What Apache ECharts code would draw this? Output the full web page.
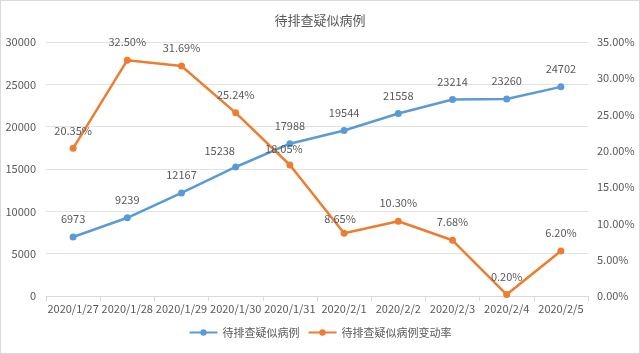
<!DOCTYPE html>
<html>
  <head>
    <meta charset="utf-8">
    <title>待排查疑似病例</title>
    <style>
      html, body { margin: 0; padding: 0; background: #fff; }
      #main { width: 638px; height: 352px; border: 1px solid #d9d9d9; }
    </style>
  </head>
  <body>
    <div id="main"></div>

  <script src="https://cdn.jsdelivr.net/npm/echarts@6/dist/echarts.min.js" charset="utf-8"></script>
  <script type="text/javascript">
  var dates = ['2020/1/27', '2020/1/28', '2020/1/29', '2020/1/30', '2020/1/31',
               '2020/2/1', '2020/2/2', '2020/2/3', '2020/2/4', '2020/2/5'];
  var cases = [6973, 9239, 12167, 15238, 17988, 19544, 21558, 23214, 23260, 24702];
  var rates = [20.35, 32.50, 31.69, 25.24, 18.05, 8.65, 10.30, 7.68, 0.20, 6.20];

  var font = 'Microsoft YaHei, "Noto Sans CJK SC", sans-serif';
  var grey = '#595959';

  var myChart = echarts.init(document.getElementById('main'));

  // 个别标签位置偏移（模仿原图）
  var caseData = cases.map(function (v, i) {
    if (i == 3) {
      return { value: v, label: { offset: [-16, 2] } };
    }
    return v;
  });
  var rateData = rates.map(function (v, i) {
    if (i == 4) return { value: v, label: { offset: [-6, 2] } };
    if (i == 5) return { value: v, label: { offset: [-4, 4] } };
    return v;
  });

  var option = {
    backgroundColor: '#fff',
    textStyle: { fontFamily: font },
    title: {
      text: '待排查疑似病例',
      left: 'center',
      top: 8,
      textStyle: { color: grey, fontSize: 13, fontWeight: 'normal', fontFamily: font }
    },
    legend: {
      bottom: 10,
      left: 'center',
      itemWidth: 28,
      itemHeight: 8,
      itemGap: 8,
      textStyle: { color: grey, fontSize: 11, fontFamily: font },
      data: ['待排查疑似病例', '待排查疑似病例变动率']
    },
    grid: {
      left: 45,
      right: 51,
      top: 41,
      bottom: 57
    },
    xAxis: {
      type: 'category',
      data: dates,
      boundaryGap: true,
      axisLine: { lineStyle: { color: '#d9d9d9' } },
      axisTick: { show: true, alignWithLabel: false, length: 5, lineStyle: { color: '#d9d9d9' } },
      axisLabel: { color: grey, fontSize: 11, margin: 7, interval: 0 }
    },
    yAxis: [
      {
        type: 'value',
        min: 0,
        max: 30000,
        interval: 5000,
        axisLine: { show: false },
        axisTick: { show: false },
        axisLabel: {
          color: grey, fontSize: 11, margin: 10,
          formatter: function (v) { return String(v); }
        },
        splitLine: { lineStyle: { color: '#e3e3e3' } }
      },
      {
        type: 'value',
        min: 0,
        max: 35,
        interval: 5,
        axisLine: { show: false },
        axisTick: { show: false },
        axisLabel: {
          color: grey, fontSize: 11, margin: 9,
          formatter: function (v) { return v.toFixed(2) + '%'; }
        },
        splitLine: { show: false }
      }
    ],
    series: [
      {
        name: '待排查疑似病例',
        type: 'line',
        yAxisIndex: 0,
        data: caseData,
        symbol: 'circle',
        symbolSize: 7,
        itemStyle: { color: '#5B9BD5' },
        lineStyle: { color: '#5B9BD5', width: 2.5 },
        label: {
          show: true,
          position: 'top',
          distance: 9,
          color: grey,
          fontSize: 11
        }
      },
      {
        name: '待排查疑似病例变动率',
        type: 'line',
        yAxisIndex: 1,
        data: rateData,
        symbol: 'circle',
        symbolSize: 7,
        itemStyle: { color: '#ED7D31' },
        lineStyle: { color: '#ED7D31', width: 2.5 },
        label: {
          show: true,
          position: 'top',
          distance: 9,
          color: grey,
          fontSize: 11,
          formatter: function (p) { return p.value.toFixed(2) + '%'; }
        }
      }
    ]
  };
  myChart.setOption(option);
  </script>
  </body>
</html>
